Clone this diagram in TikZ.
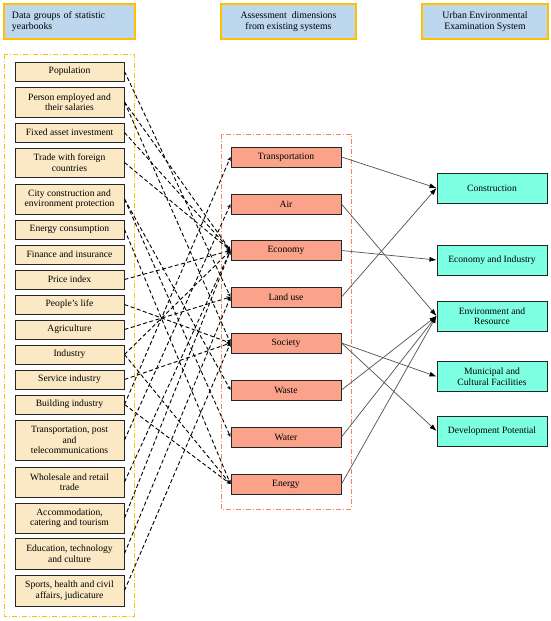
\documentclass[tikz,border=0pt]{standalone}
\usepackage{fontspec}
\setmainfont{Liberation Serif}
\usetikzlibrary{arrows.meta}
\definecolor{headblue}{RGB}{189,215,238}
\definecolor{headgold}{RGB}{255,192,0}
\definecolor{grpbeige}{RGB}{251,232,196}
\definecolor{dimsalmon}{RGB}{250,162,138}
\definecolor{dimcoral}{RGB}{248,128,96}
\definecolor{sysaqua}{RGB}{125,255,225}
\definecolor{arrowgray}{RGB}{80,80,80}

\begin{document}
\begin{tikzpicture}[x=1pt,y=-1pt,
    head/.style={draw=headgold, line width=1.2pt, fill=headblue, minimum height=35pt, inner sep=0pt, align=center, font=\fontsize{9.8}{11}\selectfont},
    grp/.style={draw=black!85, line width=1pt, fill=grpbeige, minimum width=109pt, inner sep=0pt, align=center, font=\fontsize{9.6}{10.5}\selectfont},
    dim/.style={draw=black!85, line width=1pt, fill=dimsalmon, minimum width=110pt, minimum height=20pt, inner sep=0pt, font=\fontsize{9.6}{10.5}\selectfont},
    sys/.style={draw=black!85, line width=1pt, fill=sysaqua, minimum width=110pt, minimum height=30pt, inner sep=0pt, align=center, font=\fontsize{9.6}{10.5}\selectfont},
    frm/.style={line width=0.9pt, dash pattern=on 5pt off 2pt on 1pt off 2pt},
    link/.style={line width=0.9pt, dash pattern=on 4pt off 2.5pt, -{Stealth[length=4pt,width=3.5pt]}},
    maps/.style={arrowgray, line width=0.7pt, -{Latex[length=7pt,width=5pt,color=black]}}]
  \useasboundingbox (0,0) rectangle (550,621);

  % column headers
  \node[head, minimum width=131pt, text width=115pt, align=left] (h-grp) at (69.5,21.5) {Data groups of statistic\\yearbooks};
  \node[head, minimum width=135pt] (h-dim) at (288.5,21.5) {Assessment~ dimensions\\from existing systems};
  \node[head, minimum width=126pt] (h-sys) at (485,21.5) {Urban Environmental\\Examination System};

  % frames
  \draw[frm, draw=headgold] (4,54) rectangle (134,616);
  \draw[frm, draw=dimcoral] (221,134) rectangle (351,509);

  % statistic yearbook groups
  \node[grp, minimum height=19pt] (g-pop) at (69.5,71.5) {Population};
  \node[grp, minimum height=30pt] (g-pers) at (69.5,102) {Person employed and\\their salaries};
  \node[grp, minimum height=19pt] (g-fixed) at (69.5,132.5) {Fixed asset investment};
  \node[grp, minimum height=29pt] (g-trade) at (69.5,162.5) {Trade with foreign\\countries};
  \node[grp, minimum height=30pt] (g-city) at (69.5,199) {City construction and\\environment protection};
  \node[grp, minimum height=19pt] (g-encons) at (69.5,229.5) {Energy consumption};
  \node[grp, minimum height=19pt] (g-fin) at (69.5,254.5) {Finance and insurance};
  \node[grp, minimum height=19pt] (g-price) at (69.5,279.5) {Price index};
  \node[grp, minimum height=19pt] (g-life) at (69.5,304.5) {People's life};
  \node[grp, minimum height=19pt] (g-agri) at (69.5,329.5) {Agriculture};
  \node[grp, minimum height=19pt] (g-ind) at (69.5,354.5) {Industry};
  \node[grp, minimum height=19pt] (g-serv) at (69.5,379.5) {Service industry};
  \node[grp, minimum height=19pt] (g-build) at (69.5,404.5) {Building industry};
  \node[grp, minimum height=40pt] (g-tpost) at (69.5,440) {Transportation, post\\and\\telecommunications};
  \node[grp, minimum height=30pt] (g-whole) at (69.5,482) {Wholesale and retail\\trade};
  \node[grp, minimum height=30pt] (g-accom) at (69.5,518) {Accommodation,\\catering and tourism};
  \node[grp, minimum height=31pt] (g-edu) at (69.5,553.5) {Education, technology\\and culture};
  \node[grp, minimum height=31pt] (g-sport) at (69.5,590.5) {Sports, health and civil\\affairs, judicature};

  % assessment dimensions
  \foreach \nm/\txt/\yy in {trans/Transportation/157, air/Air/204, econ/Economy/250.5, land/Land use/297,
      soc/Society/343, waste/Waste/390, water/Water/437, energy/Energy/484}
    \node[dim] (d-\nm) at (286,\yy) {\txt};

  % examination system
  \node[sys] (s-cons) at (492,188) {Construction};
  \node[sys] (s-ei) at (492,260) {Economy and Industry};
  \node[sys] (s-env) at (492,316) {Environment and\\Resource};
  \node[sys] (s-mun) at (492,376.5) {Municipal and\\Cultural Facilities};
  \node[sys] (s-dev) at (492,431) {Development Potential};

  % groups -> dimensions
  \foreach \a/\b in {pop/land, pers/econ, pers/soc, fixed/econ, trade/econ, city/waste, city/water,
      encons/energy, price/econ, life/soc, agri/land, ind/econ, ind/energy, serv/soc, build/trans,
      build/energy, tpost/air, whole/econ, accom/econ, edu/land, sport/soc}
    \draw[link] (g-\a.east) -- (d-\b.west);

  % dimensions -> system
  \foreach \a/\b in {trans/cons, air/env, econ/ei, land/cons, soc/mun, soc/dev, waste/env, water/env, energy/env}
    \draw[maps] (d-\a.east) -- (s-\b.west);
\end{tikzpicture}
\end{document}
